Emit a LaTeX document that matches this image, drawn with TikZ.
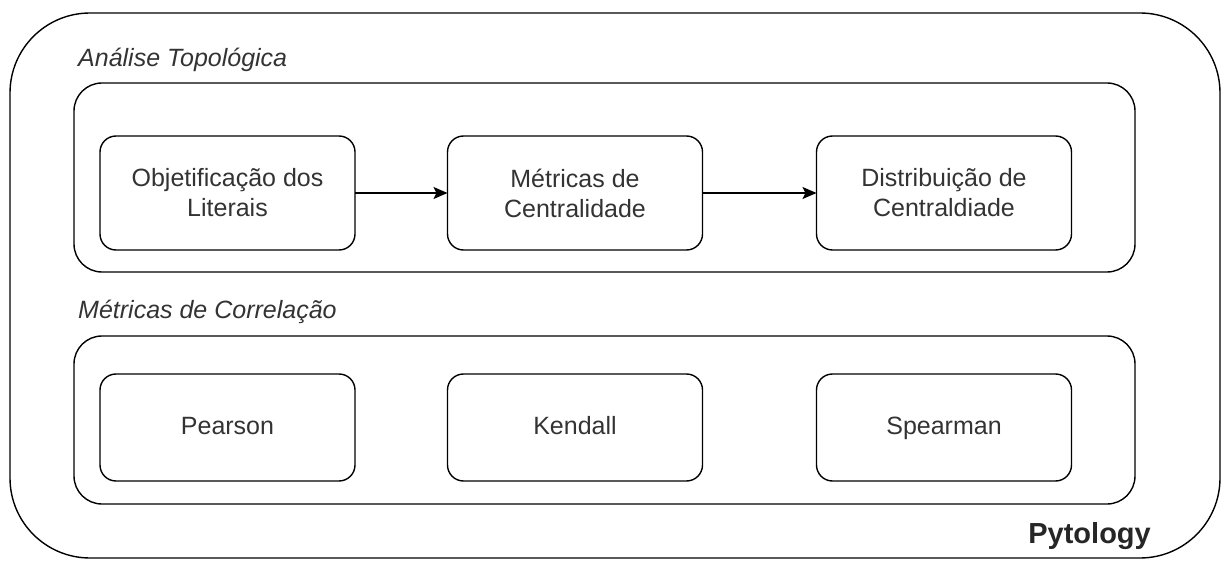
\documentclass[tikz,border=0pt]{standalone}
\usepackage{fontspec}
\setmainfont{Liberation Sans}
\usetikzlibrary{arrows.meta}
\definecolor{txt}{HTML}{333333}
\tikzset{
  frame/.style={draw=black, line width=1.4pt, rounded corners=#1, inner sep=0pt, outer sep=0pt},
  stepbox/.style={draw=black, line width=1.4pt, rounded corners=16pt, minimum width=255pt, inner sep=0pt, outer sep=0pt,
    align=center, text=txt, font=\fontsize{25}{30}\selectfont},
  onebox/.style={stepbox, text height=18pt, text depth=5pt},
  grouplabel/.style={anchor=west, text=txt, inner sep=0pt, font=\fontsize{25}{30}\selectfont\itshape},
  flow/.style={draw=black, line width=1.4pt, -{Stealth[length=14pt,width=12pt,inset=3pt]}}
}
\begin{document}
\begin{tikzpicture}[x=1pt,y=-1pt]
\useasboundingbox (0,0) rectangle (1221,561);
% containers
\node[frame=80pt, minimum width=1210pt, minimum height=545pt] (outer) at (615,285.5) {};
\node[frame=28pt, minimum width=1061pt, minimum height=189pt] (topo) at (604.5,177.5) {};
\node[frame=28pt, minimum width=1061pt, minimum height=168pt] (corr) at (604.5,420) {};
% labels
\node[grouplabel] (lt) at (78,60) {Análise Topológica};
\node[grouplabel] (lc) at (78,312) {Métricas de Correlação};
\node[anchor=east, inner sep=0pt, text=black!85, font=\fontsize{29}{34}\selectfont\bfseries] (py) at (1151,536) {Pytology};
% steps
\node[stepbox, minimum height=114pt] (obj) at (227.5,193) {Objetificação dos\\Literais};
\node[stepbox, minimum height=114pt] (met) at (575,193) {Métricas de\\Centralidade};
\node[stepbox, minimum height=114pt] (dist) at (944,193) {Distribuição de\\Centraldiade};
\node[onebox, minimum height=107pt] (pear) at (227.5,427.5) {Pearson};
\node[onebox, minimum height=107pt] (kend) at (575,427.5) {Kendall};
\node[onebox, minimum height=107pt] (spear) at (944,427.5) {Spearman};
% connectors
\draw[flow] (obj.east) -- (met.west);
\draw[flow] (met.east) -- (dist.west);
\end{tikzpicture}
\end{document}
